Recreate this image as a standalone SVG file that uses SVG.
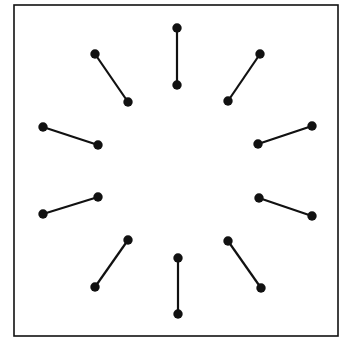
<svg xmlns="http://www.w3.org/2000/svg" width="342" height="341" viewBox="0 0 342 341">
<style>
.frame{fill:#fff;stroke:#111;stroke-width:1.6}
.c{stroke:#111;stroke-width:2.2;fill:none}
.d{fill:#111}
</style>
<rect x="0" y="0" width="342" height="341" fill="#fff"/>
<rect class="frame" x="14" y="5" width="324" height="331"/>
<g id="connectors">
<line class="c" x1="177" y1="28" x2="177" y2="85"/>
<line class="c" x1="260" y1="54" x2="228" y2="101"/>
<line class="c" x1="312" y1="126" x2="258" y2="144"/>
<line class="c" x1="312" y1="216" x2="259" y2="198"/>
<line class="c" x1="261" y1="288" x2="228" y2="241"/>
<line class="c" x1="178" y1="314" x2="178" y2="258"/>
<line class="c" x1="95" y1="287" x2="128" y2="240"/>
<line class="c" x1="43" y1="214" x2="98" y2="197"/>
<line class="c" x1="43" y1="127" x2="98" y2="145"/>
<line class="c" x1="95" y1="54" x2="128" y2="102"/>
</g>
<g id="n1o"><circle class="d" cx="177" cy="28" r="4.7"/></g>
<g id="n1i"><circle class="d" cx="177" cy="85" r="4.7"/></g>
<g id="n2o"><circle class="d" cx="260" cy="54" r="4.7"/></g>
<g id="n2i"><circle class="d" cx="228" cy="101" r="4.7"/></g>
<g id="n3o"><circle class="d" cx="312" cy="126" r="4.7"/></g>
<g id="n3i"><circle class="d" cx="258" cy="144" r="4.7"/></g>
<g id="n4o"><circle class="d" cx="312" cy="216" r="4.7"/></g>
<g id="n4i"><circle class="d" cx="259" cy="198" r="4.7"/></g>
<g id="n5o"><circle class="d" cx="261" cy="288" r="4.7"/></g>
<g id="n5i"><circle class="d" cx="228" cy="241" r="4.7"/></g>
<g id="n6o"><circle class="d" cx="178" cy="314" r="4.7"/></g>
<g id="n6i"><circle class="d" cx="178" cy="258" r="4.7"/></g>
<g id="n7o"><circle class="d" cx="95" cy="287" r="4.7"/></g>
<g id="n7i"><circle class="d" cx="128" cy="240" r="4.7"/></g>
<g id="n8o"><circle class="d" cx="43" cy="214" r="4.7"/></g>
<g id="n8i"><circle class="d" cx="98" cy="197" r="4.7"/></g>
<g id="n9o"><circle class="d" cx="43" cy="127" r="4.7"/></g>
<g id="n9i"><circle class="d" cx="98" cy="145" r="4.7"/></g>
<g id="n10o"><circle class="d" cx="95" cy="54" r="4.7"/></g>
<g id="n10i"><circle class="d" cx="128" cy="102" r="4.7"/></g>
</svg>
